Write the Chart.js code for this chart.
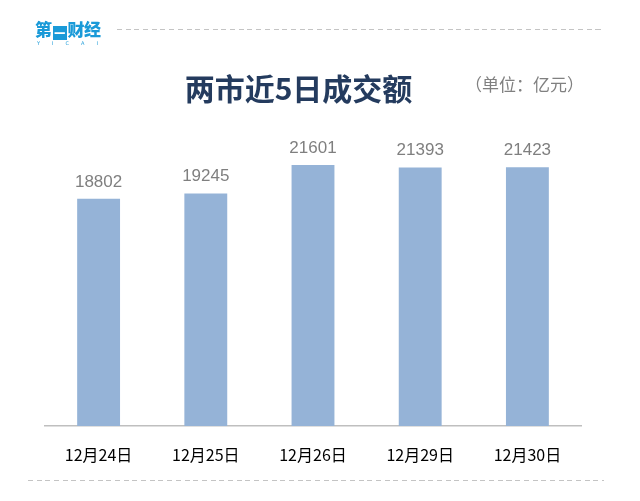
<!DOCTYPE html>
<html>
<head>
<meta charset="utf-8">
<script src="https://cdn.jsdelivr.net/npm/chart.js@4/dist/chart.umd.min.js"></script>
<style>
  html, body { margin: 0; padding: 0; background: #fff; }
  #wrap { position: relative; width: 640px; height: 501px; overflow: hidden; }
  #chart { position: absolute; left: 0; top: 0; }
  .dash {
    position: absolute; height: 1px;
    background: repeating-linear-gradient(to right, #c4c4c4 0 5px, transparent 5px 8.7px);
  }
  #logo { position: absolute; left: 35px; top: 19px; color: #1a9ad8; font-family: "Noto Sans CJK SC", sans-serif; }
  #logo .cn { font-size: 17px; font-weight: 900; letter-spacing: -0.5px; line-height: 20px; }
  #logo .yi { display: inline-block; width: 14px; height: 14px; background: #1a9ad8; color: #fff; vertical-align: -2px; font-size: 11px; line-height: 14px; text-align: center; margin: 0 1px; }
  #logo .en { font-family: "DejaVu Sans", sans-serif; font-size: 5px; letter-spacing: 12px; line-height: 6px; margin-left: 2px; }
  #title { position: absolute; left: 0; width: 597px; top: 67px; text-align: center; font-family: "Noto Sans CJK SC", sans-serif; font-weight: 700; font-size: 30px; color: #243b5e; line-height: 40px; }
  #unit { position: absolute; left: 465px; top: 72px; font-family: "Noto Sans CJK SC", sans-serif; font-size: 17px; color: #808080; line-height: 24px; }
</style>
</head>
<body>
<div id="wrap">
  <canvas id="chart" width="640" height="501"></canvas>
  <div class="dash" style="left:117px; width:487px; top:29px;"></div>
  <div class="dash" style="left:28px; width:576px; top:480px;"></div>
  <div id="logo"><div class="cn">第<span class="yi">一</span>财经</div><div class="en">YICAI</div></div>
  <div id="title">两市近5日成交额</div>
  <div id="unit">（单位：亿元）</div>
</div>
<script>
const categories = ['12月24日', '12月25日', '12月26日', '12月29日', '12月30日'];
const turnover = [18802, 19245, 21601, 21393, 21423];

// value labels above each bar
const valueLabels = {
  id: 'valueLabels',
  afterDatasetsDraw(chart) {
    const { ctx } = chart;
    const meta = chart.getDatasetMeta(0);
    ctx.save();
    ctx.font = '17px "Liberation Sans", Arial, sans-serif';
    ctx.fillStyle = '#7f7f7f';
    ctx.textAlign = 'center';
    ctx.textBaseline = 'middle';
    meta.data.forEach((bar, i) => {
      ctx.fillText(String(turnover[i]), bar.x, bar.y - 17);
    });
    ctx.restore();
  }
};

new Chart(document.getElementById('chart'), {
  type: 'bar',
  data: {
    labels: categories,
    datasets: [{
      data: turnover,
      backgroundColor: '#95b3d7',
      categoryPercentage: 1,
      barPercentage: 0.4
    }]
  },
  options: {
    responsive: false,
    animation: false,
    layout: { padding: { left: 45, right: 59, top: 124, bottom: 0 } },
    plugins: { legend: { display: false }, tooltip: { enabled: false } },
    scales: {
      y: {
        display: false,
        min: 0,
        max: 25000
      },
      x: {
        grid: { display: false, drawTicks: false },
        border: { display: true, color: '#bfbfbf', width: 1.5 },
        ticks: {
          color: '#000',
          padding: 19,
          font: { family: '"Noto Sans CJK SC", sans-serif', size: 16 }
        },
        afterFit(scale) { scale.height = 75; }
      }
    }
  },
  plugins: [valueLabels]
});
</script>
</body>
</html>
